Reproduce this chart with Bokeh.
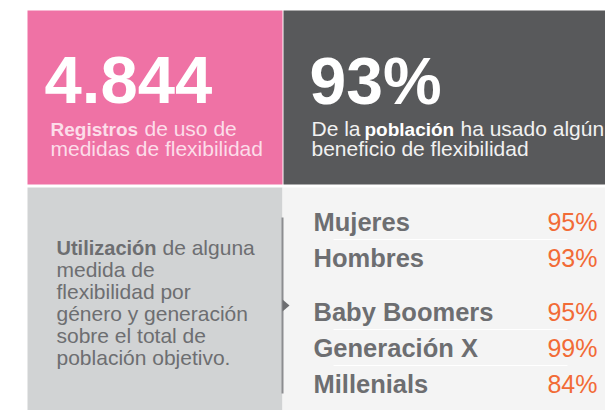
from bokeh.plotting import figure
from bokeh.models import Range1d
from bokeh.core.properties import value
from bokeh.embed import file_html
from bokeh.resources import INLINE

# ---- data ----
headline_left = "4.844"
headline_right = "93%"
categories = ["Mujeres", "Hombres", "Baby Boomers", "Generación X", "Millenials"]
percentages = [95, 93, 95, 99, 84]
groups = [0, 0, 1, 1, 1]
desc_lines = ["medida de", "flexibilidad por", "género y generación",
              "sobre el total de", "población objetivo."]

# ---- style ----
FONT = value("Liberation Sans")
PINK = "#ef72a5"
DARK = "#58595b"
LGRAY = "#d1d3d4"
PANEL = "#f4f4f4"
TGRAY = "#6d6e71"
ORANGE = "#f26b36"
PINKTXT = "#fcdde9"
BASE_FIX = 0.33  # baseline correction (fraction of font size)

W, H = 605, 410
p = figure(width=W, height=H, output_backend="svg", toolbar_location=None,
           x_range=Range1d(0, W), y_range=Range1d(H, 0),
           min_border=0, background_fill_color="white", border_fill_color="white",
           outline_line_color=None)
p.axis.visible = False
p.grid.visible = False

# panels
LEFT, MID, RIGHT = 27, 282, 620
TOP, SPLIT, GAP, BOTTOM = 10, 184, 3, 420
p.quad(left=[LEFT], right=[MID], top=[TOP], bottom=[SPLIT], fill_color=PINK, line_color=None)
p.quad(left=[MID + 1], right=[RIGHT], top=[TOP], bottom=[SPLIT], fill_color=DARK, line_color=None)
p.quad(left=[LEFT], right=[MID], top=[SPLIT + GAP], bottom=[BOTTOM], fill_color=LGRAY, line_color=None)
p.quad(left=[MID], right=[RIGHT], top=[SPLIT + GAP], bottom=[BOTTOM], fill_color=PANEL, line_color=None)

# divider line + pointer
p.segment(x0=[MID], y0=[217], x1=[MID], y1=[393], line_color="#8c8d90", line_width=2)
p.patch(x=[MID, MID + 7, MID], y=[299, 305, 311], fill_color=TGRAY, line_color=None)

def txt(x, y, s, size, color, style="normal", align="left"):
    p.text(x=[x], y=[y - BASE_FIX * size], text=[s], text_font=FONT,
           text_font_size=f"{size}px", text_color=color, text_font_style=style,
           text_align=align, text_baseline="alphabetic")

# headlines
txt(44, 102, headline_left, 67, "white", "bold")
txt(309, 102, headline_right, 66, "white", "bold")

# subtitles
txt(50, 135, "Registros", 19, PINKTXT, "bold")
txt(144, 135, "de uso de", 21, PINKTXT)
txt(50, 155, "medidas de flexibilidad", 21, PINKTXT)

txt(311, 135, "De la", 21, "#f1f1f1")
txt(364, 135, "población", 19, "white", "bold")
txt(460, 135, "ha usado algún", 21, "#f1f1f1")
txt(311, 155, "beneficio de flexibilidad", 21, "#f1f1f1")

# description
txt(56, 254, "Utilización", 20, TGRAY, "bold")
txt(162, 254, "de alguna", 21, TGRAY)
for i, line in enumerate(desc_lines):
    txt(56, 276 + 22 * i, line, 21, TGRAY)

# rows
row_y = []
y = 230
prev = groups[0]
for g in groups:
    if g != prev:
        y += 18
        prev = g
    row_y.append(y)
    y += 36

for i, (c, v) in enumerate(zip(categories, percentages)):
    txt(313, row_y[i], c, 25.5, TGRAY, "bold")
    txt(597, row_y[i], f"{v}%", 25, ORANGE, align="right")
    if i + 1 < len(categories) and groups[i + 1] == groups[i]:
        ys = row_y[i] + 9
        p.segment(x0=[333], y0=[ys], x1=[567], y1=[ys], line_color="white", line_width=1)

open("out.html", "w").write(file_html(p, INLINE))
